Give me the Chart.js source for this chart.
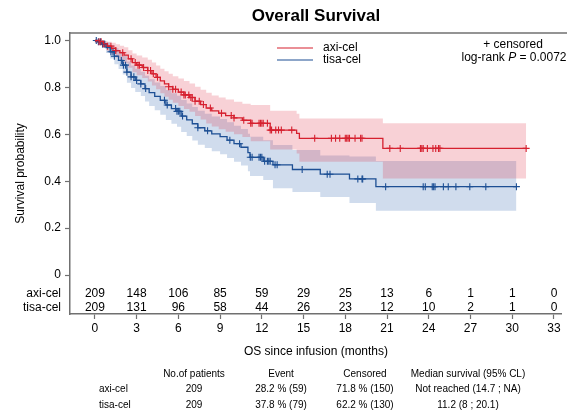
<!DOCTYPE html>
<html>
<head>
<meta charset="utf-8">
<script src="https://cdn.jsdelivr.net/npm/chart.js@4.4.0/dist/chart.umd.min.js"></script>
<style>
  html, body { margin: 0; padding: 0; background: #fff; }
</style>
</head>
<body>
<canvas id="kmChart" width="567" height="410"></canvas>
<script>
// ---- data ----
const riskTimes = [0, 3, 6, 9, 12, 15, 18, 21, 24, 27, 30, 33];
const axiRisk = [209, 148, 106, 85, 59, 29, 25, 13, 6, 1, 1, 0];
const tisaRisk = [209, 131, 96, 58, 44, 26, 23, 12, 10, 2, 1, 0];
const yTicks = [0, 0.2, 0.4, 0.6, 0.8, 1.0];

// axi-cel KM steps
const axiTime  = [0, 0.3, 0.6, 0.9, 1.2, 1.5, 1.8, 2.1, 2.4, 2.7, 3.0, 3.4, 3.8, 4.1, 4.4, 4.7, 5.0, 5.3, 5.6, 6.0, 6.4, 6.8, 7.2, 7.6, 8.0, 8.4, 8.9, 9.4, 10.0, 10.6, 11.2, 12.6, 14.5, 14.7, 20.7, 31.0];
const axiSurv  = [1, 0.995, 0.986, 0.976, 0.967, 0.957, 0.948, 0.938, 0.922, 0.906, 0.895, 0.885, 0.872, 0.858, 0.843, 0.828, 0.815, 0.803, 0.792, 0.780, 0.768, 0.757, 0.741, 0.727, 0.712, 0.700, 0.690, 0.680, 0.670, 0.660, 0.647, 0.618, 0.604, 0.583, 0.540, 0.540];
const axiUpper = [1, 1, 0.998, 0.995, 0.990, 0.984, 0.978, 0.971, 0.958, 0.945, 0.936, 0.928, 0.918, 0.906, 0.893, 0.880, 0.869, 0.858, 0.848, 0.838, 0.827, 0.817, 0.803, 0.790, 0.777, 0.766, 0.757, 0.748, 0.739, 0.730, 0.725, 0.700, 0.688, 0.668, 0.647, 0.647];
const axiLower = [1, 0.985, 0.970, 0.955, 0.942, 0.928, 0.916, 0.903, 0.884, 0.865, 0.852, 0.840, 0.825, 0.808, 0.792, 0.775, 0.760, 0.747, 0.735, 0.721, 0.708, 0.696, 0.678, 0.663, 0.646, 0.633, 0.622, 0.611, 0.600, 0.589, 0.570, 0.535, 0.518, 0.483, 0.412, 0.412];
const axiCens  = [0.3, 0.45, 0.6, 0.9, 1.15, 1.5, 2.0, 2.6, 2.9, 3.1, 3.2, 3.5, 3.8, 4.0, 4.2, 4.5, 5.3, 5.6, 5.8, 6.2, 6.4, 6.5, 6.75, 6.9, 7.0, 7.2, 7.5, 7.8, 8.3, 9.1, 9.8, 10.0, 10.7, 11.2, 11.3, 11.8, 11.9, 12.0, 12.1, 12.4, 12.6, 12.7, 13.0, 13.2, 13.4, 14.15, 15.8, 17.0, 17.3, 17.6, 18.0, 18.1, 18.2, 18.3, 18.7, 19.1, 19.2, 21.2, 21.95, 23.4, 23.5, 23.6, 23.9, 24.3, 24.5, 24.7, 24.8, 31.0];

// tisa-cel KM steps
const tisaTime  = [0, 0.2, 0.5, 0.8, 1.1, 1.4, 1.7, 2.0, 2.3, 2.6, 2.9, 3.3, 3.6, 3.9, 4.3, 4.7, 5.1, 5.5, 5.9, 6.2, 6.6, 7.0, 7.4, 7.9, 8.4, 9.0, 9.5, 10.0, 10.5, 11.0, 11.15, 12.1, 12.8, 14.2, 16.2, 18.3, 20.2, 30.3];
const tisaSurv  = [1, 0.995, 0.985, 0.970, 0.952, 0.933, 0.915, 0.895, 0.865, 0.845, 0.830, 0.815, 0.795, 0.778, 0.762, 0.745, 0.725, 0.710, 0.698, 0.678, 0.662, 0.645, 0.628, 0.615, 0.602, 0.590, 0.575, 0.560, 0.545, 0.522, 0.502, 0.485, 0.470, 0.450, 0.430, 0.410, 0.377, 0.377];
const tisaUpper = [1, 1, 0.998, 0.992, 0.981, 0.967, 0.952, 0.935, 0.910, 0.893, 0.880, 0.867, 0.850, 0.835, 0.821, 0.806, 0.789, 0.775, 0.764, 0.746, 0.731, 0.716, 0.700, 0.688, 0.676, 0.665, 0.651, 0.637, 0.623, 0.602, 0.590, 0.575, 0.555, 0.533, 0.510, 0.505, 0.486, 0.486];
const tisaLower = [1, 0.985, 0.968, 0.947, 0.923, 0.899, 0.878, 0.855, 0.820, 0.797, 0.780, 0.763, 0.740, 0.721, 0.703, 0.684, 0.661, 0.645, 0.632, 0.610, 0.593, 0.574, 0.556, 0.542, 0.528, 0.515, 0.499, 0.483, 0.467, 0.443, 0.422, 0.405, 0.370, 0.354, 0.333, 0.307, 0.274, 0.274];
const tisaCens  = [0.1, 0.25, 0.4, 0.55, 0.7, 1.15, 1.3, 1.4, 1.9, 2.05, 2.2, 2.3, 2.6, 2.8, 3.0, 3.3, 3.65, 5.0, 5.2, 5.8, 5.9, 6.0, 6.1, 6.3, 7.4, 8.1, 9.7, 10.4, 11.17, 11.3, 11.8, 11.9, 12.0, 12.2, 12.4, 12.5, 12.6, 12.95, 13.1, 14.9, 16.7, 16.9, 18.9, 19.2, 19.25, 20.9, 23.6, 23.75, 24.25, 24.35, 24.45, 25.05, 25.4, 25.95, 26.95, 28.1, 30.3];

// summary table under the plot
const tableHead = ['No.of patients', 'Event', 'Censored', 'Median survival (95% CL)'];
const tableRows = [
  ['axi-cel', '209', '28.2 % (59)', '71.8 % (150)', 'Not reached (14.7 ; NA)'],
  ['tisa-cel', '209', '37.8 % (79)', '62.2 % (130)', '11.2 (8 ; 20.1)']
];

const RED = '#d6202f';
const BLUE = '#1d4f94';
const ROW_AXI = -0.081;
const ROW_TISA = -0.141;
const FONT = '"Liberation Sans", Arial, sans-serif';

const pts = (xs, ys) => xs.map((t, i) => ({x: t, y: ys[i]}));
const survAt = (xs, ys, t) => {
  let s = ys[0];
  for (let i = 0; i < xs.length; i++) { if (xs[i] <= t) s = ys[i]; }
  return s;
};
const censPts = (cens, xs, ys) => cens.map(t => ({x: t, y: survAt(xs, ys, t)}));

const extras = {
  id: 'extras',
  afterDraw(chart) {
    const {ctx, chartArea, scales: {x, y}} = chart;
    ctx.save();
    // top frame line
    ctx.strokeStyle = '#707070';
    ctx.lineWidth = 1.5;
    ctx.beginPath();
    ctx.moveTo(chartArea.left, chartArea.top);
    ctx.lineTo(chart.width, chartArea.top);
    ctx.stroke();

    ctx.fillStyle = '#000';
    ctx.textBaseline = 'middle';
    ctx.textAlign = 'center';
    ctx.font = 'bold 17px ' + FONT;
    ctx.fillText('Overall Survival', (chartArea.left + chartArea.right) / 2, 16);

    // legend
    ctx.lineWidth = 1.2;
    ctx.strokeStyle = RED;
    ctx.beginPath(); ctx.moveTo(277, 48); ctx.lineTo(313, 48); ctx.stroke();
    ctx.strokeStyle = BLUE;
    ctx.beginPath(); ctx.moveTo(277, 60); ctx.lineTo(313, 60); ctx.stroke();
    ctx.font = '12px ' + FONT;
    ctx.textAlign = 'left';
    ctx.fillText('axi-cel', 323, 48);
    ctx.fillText('tisa-cel', 323, 60);

    // censored / p-value note
    ctx.textAlign = 'center';
    ctx.fillText('+ censored', 513, 45);
    const a = 'log-rank ', b = 'P', c = ' = 0.0072';
    ctx.font = '12px ' + FONT;
    const wa = ctx.measureText(a).width, wc = ctx.measureText(c).width;
    ctx.font = 'italic 12px ' + FONT;
    const wb = ctx.measureText(b).width;
    let sx = 514 - (wa + wb + wc) / 2;
    ctx.textAlign = 'left';
    ctx.font = '12px ' + FONT;
    ctx.fillText(a, sx, 58);
    ctx.font = 'italic 12px ' + FONT;
    ctx.fillText(b, sx + wa, 58);
    ctx.font = '12px ' + FONT;
    ctx.fillText(c, sx + wa + wb, 58);

    // numbers at risk
    ctx.textAlign = 'center';
    riskTimes.forEach((t, i) => {
      const px = x.getPixelForValue(t);
      ctx.fillText(String(axiRisk[i]), px, y.getPixelForValue(ROW_AXI));
      ctx.fillText(String(tisaRisk[i]), px, y.getPixelForValue(ROW_TISA));
    });

    // summary table
    ctx.font = '10px ' + FONT;
    const colX = [194, 281, 365, 468];
    tableHead.forEach((h, i) => ctx.fillText(h, colX[i], 374));
    tableRows.forEach((r, j) => {
      const ry = 389 + j * 16;
      ctx.textAlign = 'left';
      ctx.fillText(r[0], 99, ry);
      ctx.textAlign = 'center';
      for (let k = 1; k < r.length; k++) ctx.fillText(r[k], colX[k - 1], ry);
    });
    ctx.restore();
  }
};

const bandStyle = (color) => ({
  stepped: true, borderWidth: 0, pointRadius: 0, backgroundColor: color, borderColor: 'transparent'
});

new Chart(document.getElementById('kmChart'), {
  type: 'line',
  data: {
    datasets: [
      {label: 'axi-cel', data: pts(axiTime, axiSurv), stepped: true, borderColor: RED, borderWidth: 1.3, pointRadius: 0, fill: false},
      {label: 'tisa-cel', data: pts(tisaTime, tisaSurv), stepped: true, borderColor: BLUE, borderWidth: 1.3, pointRadius: 0, fill: false},
      {label: 'axi cens', data: censPts(axiCens, axiTime, axiSurv), showLine: false, pointStyle: 'cross', pointRadius: 3.5, borderColor: RED, borderWidth: 1.1},
      {label: 'tisa cens', data: censPts(tisaCens, tisaTime, tisaSurv), showLine: false, pointStyle: 'cross', pointRadius: 3.5, borderColor: BLUE, borderWidth: 1.1},
      Object.assign({label: 'axi up', data: pts(axiTime, axiUpper), fill: '+1'}, bandStyle('rgba(220,40,60,0.21)')),
      Object.assign({label: 'axi lo', data: pts(axiTime, axiLower), fill: false}, bandStyle('rgba(220,40,60,0.21)')),
      Object.assign({label: 'tisa up', data: pts(tisaTime, tisaUpper), fill: '+1'}, bandStyle('rgba(40,95,175,0.22)')),
      Object.assign({label: 'tisa lo', data: pts(tisaTime, tisaLower), fill: false}, bandStyle('rgba(40,95,175,0.22)'))
    ]
  },
  options: {
    responsive: false,
    animation: false,
    layout: {padding: {top: 33, right: 4, left: 0, bottom: 0}},
    plugins: {legend: {display: false}, tooltip: {enabled: false}, title: {display: false}},
    scales: {
      x: {
        type: 'linear', min: -1.79, max: 33.57,
        afterBuildTicks: (s) => { s.ticks = riskTimes.map(v => ({value: v})); },
        afterFit: (s) => { s.height = 96; },
        border: {color: '#707070', width: 1.5},
        grid: {drawOnChartArea: false, drawTicks: true, tickLength: 5, color: '#707070', tickWidth: 1.2},
        ticks: {color: '#000', font: {family: FONT, size: 12}, padding: 2, maxRotation: 0, autoSkip: false},
        title: {display: true, text: 'OS since infusion (months)', color: '#000', font: {family: FONT, size: 12}, padding: {top: 4, bottom: 51}}
      },
      y: {
        type: 'linear', min: -0.166, max: 1.032,
        afterBuildTicks: (s) => { s.ticks = [ROW_TISA, ROW_AXI].concat(yTicks).map(v => ({value: v})); },
        afterFit: (s) => { s.width = 70; },
        border: {color: '#707070', width: 1.5},
        grid: {drawOnChartArea: false, drawTicks: true, tickLength: 5, tickWidth: 1.2,
               color: (c) => (c.tick && c.tick.value < 0 ? 'rgba(0,0,0,0)' : '#707070')},
        ticks: {
          color: '#000', font: {family: FONT, size: 12}, padding: 4, autoSkip: false,
          callback: (v) => v === ROW_AXI ? 'axi-cel' : v === ROW_TISA ? 'tisa-cel' : (v === 0 ? '0' : v.toFixed(1))
        },
        title: {display: true, text: 'Survival probability', color: '#000', font: {family: FONT, size: 12}, padding: {top: 13, bottom: 0}}
      }
    }
  },
  plugins: [extras]
});
</script>
</body>
</html>
